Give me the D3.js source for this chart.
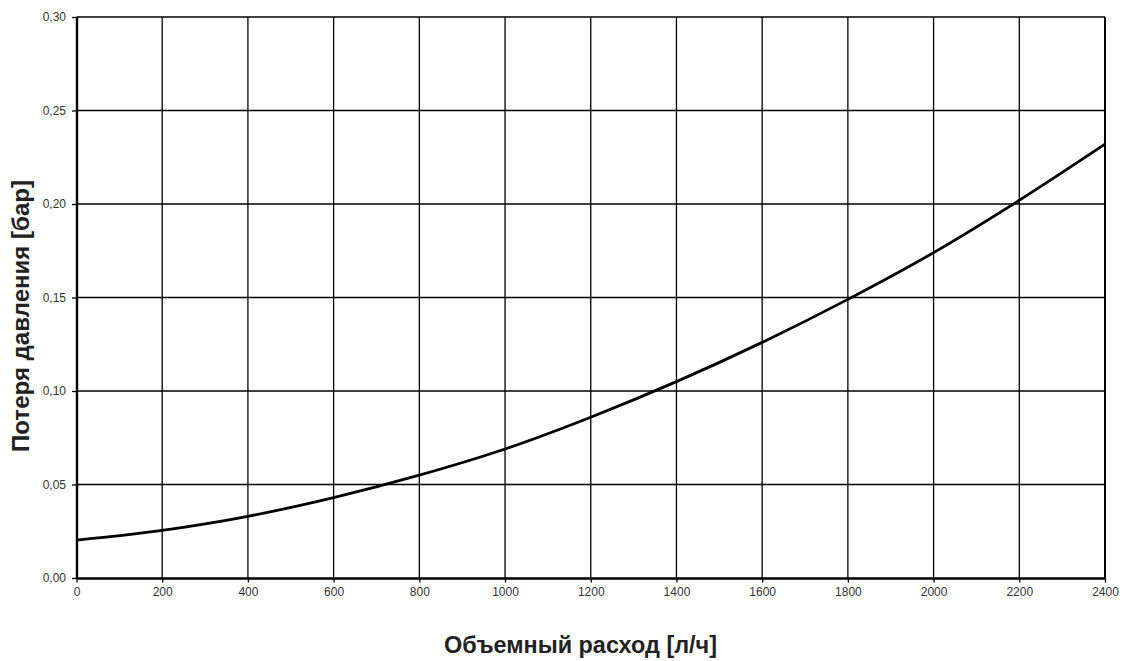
<!DOCTYPE html>
<html lang="ru">
<head>
<meta charset="UTF-8">
<title>Потеря давления</title>
<script src="https://d3js.org/d3.v7.min.js"></script>
<style>
    body { margin: 0; background: #fff; font-family: Arial, "Liberation Sans", sans-serif; }
    .tick text { font-size: 12px; fill: #333; }
    .axis-title { font-size: 23.5px; font-weight: bold; fill: #222; font-family: Arial, "Liberation Sans", sans-serif; }
</style>
</head>
<body>
<svg id="chart" width="1122" height="661"></svg>
<script>
    // Data
    const flow = [0, 200, 400, 600, 800, 1000, 1200, 1400, 1600, 1800, 2000, 2200, 2400];
    const loss = [0.0203, 0.0255, 0.033, 0.043, 0.055, 0.069, 0.086, 0.105, 0.126, 0.149, 0.174, 0.202, 0.232];
    const xTicks = [0, 200, 400, 600, 800, 1000, 1200, 1400, 1600, 1800, 2000, 2200, 2400];
    const yTicks = [0, 0.05, 0.10, 0.15, 0.20, 0.25, 0.30];

    const margin = { top: 17, right: 17, bottom: 83, left: 76.5 };
    const width = 1122 - margin.left - margin.right;
    const height = 661 - margin.top - margin.bottom;

    const svg = d3.select("#chart");
    const g = svg.append("g").attr("transform", `translate(${margin.left},${margin.top})`);

    const x = d3.scaleLinear().domain([0, 2400]).range([0, width]);
    const y = d3.scaleLinear().domain([0, 0.30]).range([height, 0]);

    // grid
    g.append("g").selectAll("line").data(xTicks.slice(1, -1)).join("line")
        .attr("x1", d => x(d)).attr("x2", d => x(d))
        .attr("y1", 0).attr("y2", height)
        .attr("stroke", "#000").attr("stroke-width", 1.3);
    g.append("g").selectAll("line").data(yTicks.slice(1, -1)).join("line")
        .attr("x1", 0).attr("x2", width)
        .attr("y1", d => y(d)).attr("y2", d => y(d))
        .attr("stroke", "#000").attr("stroke-width", 1.3);

    // frame
    g.append("line").attr("x1", 0).attr("x2", width).attr("y1", 0).attr("y2", 0)
        .attr("stroke", "#000").attr("stroke-width", 1.5);
    g.append("line").attr("x1", width).attr("x2", width).attr("y1", 0).attr("y2", height)
        .attr("stroke", "#000").attr("stroke-width", 2);

    const fmt = d3.format(".2f");

    const xAxis = g.append("g")
        .attr("transform", `translate(0,${height})`)
        .call(d3.axisBottom(x).tickValues(xTicks).tickSize(4.5).tickSizeOuter(0).tickPadding(5)
            .tickFormat(d3.format("d")));
    const yAxis = g.append("g")
        .call(d3.axisLeft(y).tickValues(yTicks).tickSize(4.5).tickSizeOuter(0).tickPadding(6)
            .tickFormat(d => fmt(d).replace(".", ",")));

    [xAxis, yAxis].forEach(a => {
        a.select(".domain").attr("stroke", "#000").attr("stroke-width", 2.4);
        a.selectAll(".tick line").attr("stroke", "#000").attr("stroke-width", 1.3);
        a.selectAll(".tick text").attr("font-family", "Arial, 'Liberation Sans', sans-serif");
    });

    // curve
    const line = d3.line()
        .x((d, i) => x(flow[i]))
        .y(d => y(d))
        .curve(d3.curveMonotoneX);
    g.append("path").datum(loss)
        .attr("d", line)
        .attr("fill", "none")
        .attr("stroke", "#000")
        .attr("stroke-width", 2.8);

    // titles
    svg.append("text").attr("class", "axis-title")
        .attr("x", 580.5).attr("y", 653)
        .attr("text-anchor", "middle")
        .attr("textLength", 273)
        .attr("lengthAdjust", "spacingAndGlyphs")
        .text("Объемный расход [л/ч]");
    svg.append("text").attr("class", "axis-title")
        .attr("transform", "translate(29,316) rotate(-90)")
        .attr("text-anchor", "middle")
        .attr("textLength", 272)
        .attr("lengthAdjust", "spacingAndGlyphs")
        .text("Потеря давления [бар]");
</script>
</body>
</html>
